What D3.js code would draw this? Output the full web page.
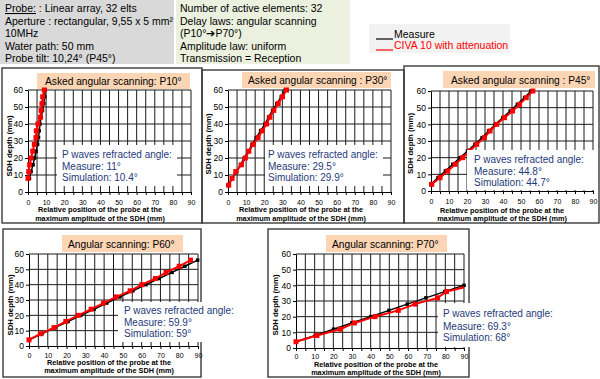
<!DOCTYPE html>
<html><head><meta charset="utf-8">
<script src="https://cdn.jsdelivr.net/npm/d3@7"></script>
<style>body{margin:0;background:#fff}svg{display:block}text{font-family:"Liberation Sans",Arial,sans-serif}</style>
</head><body><svg id="c" width="600" height="379"></svg>
<script>
// ---------- data ----------
const xTickValues = [0,10,20,30,40,50,60,70,80,90];
const yTickValues = [0,10,20,30,40,50,60];

const depthP10 = [8,12,16,20,24,28,32,36,40,44,48,52,56,60];
const civaP10  = [0,0.4,0.9,1.7,2.6,3.5,4.4,4.6,5.5,6.8,7.2,7.7,8.1,9.0];
const measP10  = [0.8,1.7,2.8,3.6,4.5,5.3,5.8,6.2,6.6,7.3,8.0,8.7,9.2,9.5];

const depthP30 = [4,8,12,16,20,24,28,32,36,40,44,48,52,56,60];
const civaP30  = [0.4,2.2,4.3,7.4,9.6,11.5,13.9,16.6,18.9,21.3,23.1,25.3,27.7,30.1,32.3];
const measP30  = [0,2.4,4.8,6.9,9.0,11.3,13.3,15.6,18.0,20.4,22.4,24.6,27.0,29.4,31.6];

const depthP45 = [4,8,12,16,20,24,28,32,36,40,44,48,52,56,60];
const civaP45  = [0.4,5.0,9.3,13.4,17.6,21.5,25.4,29.7,32.8,36.5,40.8,45.3,49.2,52.9,56.6];
const measP45  = [0,3.9,8.0,12.1,16.2,20.3,24.4,28.4,32.0,35.8,39.9,44.0,48.0,52.0,55.5];

const depthP60 = [4,8,12,16,20,24,28,32,36,40,44,48,52,56];
const civaP60  = [0,6.2,13.3,19.6,26.3,33.1,39.7,46.4,53.9,60.1,67.3,73.0,80.0,86.0];
const measP60  = [0,6.9,13.8,20.8,27.6,34.6,41.4,48.4,55.3,62.3,69.2,76.2,83.0,89.8];

const depthP70 = [4,8,12,16,20,24,28,32,36,40];
const civaP70  = [0,11.2,23.7,31.3,42.3,54.8,63.7,75.8,80.6,94.5];
const measP70  = [0,10.3,20.1,29.9,40.0,49.8,59.6,69.6,79.7,90.0];

const panelTitles = ["Asked angular scanning: P10°","Asked angular scanning : P30°","Asked angular scanning : P45°","Angular scanning: P60°","Angular scanning: P70°"];
const measureAngles = ["11°","29.5°","44.8°","59.9°","69.3°"];
const simAngles = ["10.4°","29.9°","44.7°","59°","68°"];

const probeLines = ["Linear array, 32 elts","Aperture : rectangular, 9,55 x 5 mm²","10MHz","Water path: 50 mm","Probe tilt: 10,24° (P45°)"];
const delayLines = ["Number of active elements: 32","Delay laws: angular scanning","(P10°\u2794P70°)","Amplitude law: uniform","Transmission = Reception"];
const legendNames = ["Measure","CIVA 10 with attenuation"];

// ---------- layout ----------
const svg = d3.select("#c");
const FONT = '"Liberation Sans",Arial,sans-serif';

// header boxes
svg.append("rect").attr("x",0).attr("y",0).attr("width",174).attr("height",64).attr("fill","#d9d9d9");
svg.append("rect").attr("x",176).attr("y",0).attr("width",174).attr("height",64).attr("fill","#ebf1de");
const hb = [12,24.5,37,49.5,62];
const t0 = svg.append("text").attr("x",5).attr("y",hb[0]).attr("font-size",10.5).attr("fill","#000");
t0.append("tspan").attr("text-decoration","underline").text("Probe:");
t0.append("tspan").text(" : " + probeLines[0]);
probeLines.slice(1).forEach((s,i)=>svg.append("text").attr("x",5).attr("y",hb[i+1]).attr("font-size",10.5).text(s));
delayLines.forEach((s,i)=>svg.append("text").attr("x",180).attr("y",hb[i]).attr("font-size",10.5).text(s));

// legend
svg.append("rect").attr("x",369).attr("y",24).attr("width",141).attr("height",29).attr("fill","#f2f2f2");
const legColors = ["#000","#ff0000"];
legendNames.forEach((n,i)=>{
  const y = 39 + i*11;
  svg.append("line").attr("x1",376).attr("x2",393).attr("y1",y).attr("y2",y).attr("stroke",legColors[i]).attr("stroke-width",1.2);
  svg.append("text").attr("x",394).attr("y",y-1.5).attr("font-size",10.5).attr("fill",legColors[i]).text(n);
});

const panels = [
 {frame:[2,68,200,155], tbox:[37,73,153,16], tx:45, ty:85, plot:[28,90,191,192], ylx:8.5, yly:146, tly:205, xlc:100, xlb:[212,220.5], ann:[57,145,120,41], ax:62, ab:[158,169.5,181], d:depthP10, c:civaP10, m:measP10},
 {frame:[202,70,202,153], tbox:[242,72,149,16], tx:248, ty:84, plot:[228,90,391,192], ylx:207.5, yly:144, tly:205, xlc:301, xlb:[212,220.5], ann:[265,145,118,41], ax:268, ab:[158,169.5,181], d:depthP30, c:civaP30, m:measP30},
 {frame:[404,66,195,157], tbox:[443,71,152,17], tx:451, ty:84, plot:[431,91,593,191], ylx:409.5, yly:143.5, tly:204, xlc:502, xlb:[213,221], ann:[467,150,128,40], ax:474, ab:[163,175,186], d:depthP45, c:civaP45, m:measP45},
 {frame:[3,229,198,148], tbox:[62,235,121,17], tx:68, ty:247.5, plot:[29,254,198,346], ylx:10, yly:305, tly:358, xlc:109, xlb:[364.5,373], ann:[118,302,118,40], ax:124, ab:[313.5,325.5,336.5], d:depthP60, c:civaP60, m:measP60},
 {frame:[268,229,201,148], tbox:[326,235,121,17], tx:332, ty:247.5, plot:[296,254,464,348], ylx:275, yly:305, tly:359.5, xlc:376, xlb:[366.5,375], ann:[438,303,118,44], ax:443, ab:[316.5,329.5,340.5], d:depthP70, c:civaP70, m:measP70}
];

// frames
panels.forEach(p=>{
  svg.append("rect").attr("x",p.frame[0]).attr("y",p.frame[1]).attr("width",p.frame[2]).attr("height",p.frame[3])
    .attr("fill","none").attr("stroke","#3a3a3a").attr("stroke-width",1.4);
});

panels.forEach((p,k)=>{
  const g = svg.append("g");
  // title
  g.append("rect").attr("x",p.tbox[0]).attr("y",p.tbox[1]).attr("width",p.tbox[2]).attr("height",p.tbox[3]).attr("fill","#fcd5b4");
  g.append("text").attr("x",p.tx).attr("y",p.ty).attr("font-size",10.2).attr("fill","#000").text(panelTitles[k]);

  const [x0,y0,x1,y1] = p.plot;
  const x = d3.scaleLinear().domain([0,90]).range([x0,x1]);
  const y = d3.scaleLinear().domain([0,60]).range([y1,y0]);

  // grid
  g.append("g").selectAll("line").data(d3.range(5,95,5)).join("line")
    .attr("x1",d=>x(d)).attr("x2",d=>x(d)).attr("y1",y(0)).attr("y2",y(60))
    .attr("stroke","#1a1a1a").attr("stroke-width",1);
  g.append("g").selectAll("line").data(d3.range(10,70,10)).join("line")
    .attr("x1",x(0)).attr("x2",x(90)).attr("y1",d=>y(d)).attr("y2",d=>y(d))
    .attr("stroke","#1a1a1a").attr("stroke-width",1);

  // axes
  const xa = g.append("g").attr("transform",`translate(0,${y(0)})`)
    .call(d3.axisBottom(x).tickValues(d3.range(0,95,5)).tickFormat(d=>xTickValues.includes(d)?d:"")
      .tickSizeInner(3).tickSizeOuter(0).tickPadding(p.tly - y(0) - 8));
  xa.selectAll("text").attr("font-size",7).attr("font-family",FONT).attr("fill","#000");
  xa.selectAll("line,path").attr("stroke","#000");
  const ya = g.append("g").attr("transform",`translate(${x(0)},0)`)
    .call(d3.axisLeft(y).tickValues(yTickValues).tickSizeInner(3).tickSizeOuter(0).tickPadding(2));
  ya.selectAll("text").attr("font-size",8.5).attr("font-family",FONT).attr("fill","#000");
  ya.selectAll("line,path").attr("stroke","#000");

  // axis titles
  g.append("text").attr("transform",`translate(${p.ylx+3},${p.yly}) rotate(-90)`).attr("text-anchor","middle")
    .attr("font-size",7.8).attr("font-weight","bold").text("SDH depth (mm)");
  g.append("text").attr("x",p.xlc).attr("y",p.xlb[0]).attr("text-anchor","middle").attr("font-size",7.3).attr("font-weight","bold")
    .text("Relative position of the probe at the");
  g.append("text").attr("x",p.xlc).attr("y",p.xlb[1]).attr("text-anchor","middle").attr("font-size",7.3).attr("font-weight","bold")
    .text("maximum amplitude of the SDH (mm)");

  // clip
  const cid = "clip"+k;
  svg.append("clipPath").attr("id",cid).append("rect").attr("x",x0-4).attr("y",y0-4).attr("width",x1-x0+4).attr("height",y1-y0+8);

  const series = [{v:p.m, col:"#000", w:1.5, s:3.5},{v:p.c, col:"#ff0000", w:2, s:5}];
  series.forEach(sr=>{
    const pts = p.d.map((dd,i)=>[sr.v[i],dd]);
    const line = d3.line().x(d=>x(d[0])).y(d=>y(d[1]));
    g.append("path").attr("d",line(pts)).attr("fill","none").attr("stroke",sr.col).attr("stroke-width",sr.w)
      .attr("clip-path",`url(#${cid})`);
    g.append("g").selectAll("rect").data(pts.filter(d=>d[0]<=90)).join("rect")
      .attr("x",d=>x(d[0])-sr.s/2).attr("y",d=>y(d[1])-sr.s/2).attr("width",sr.s).attr("height",sr.s).attr("fill",sr.col);
  });
});

// annotation boxes on top
panels.forEach((p,k)=>{
  svg.append("rect").attr("x",p.ann[0]).attr("y",p.ann[1]).attr("width",p.ann[2]).attr("height",p.ann[3]).attr("fill","#fff");
  const lines = ["P waves refracted angle:","Measure: "+measureAngles[k],"Simulation: "+simAngles[k]];
  lines.forEach((s,i)=>svg.append("text").attr("x",p.ax).attr("y",p.ab[i]).attr("font-size",10).attr("fill","#1f3a7a").text(s));
});
</script></body></html>
